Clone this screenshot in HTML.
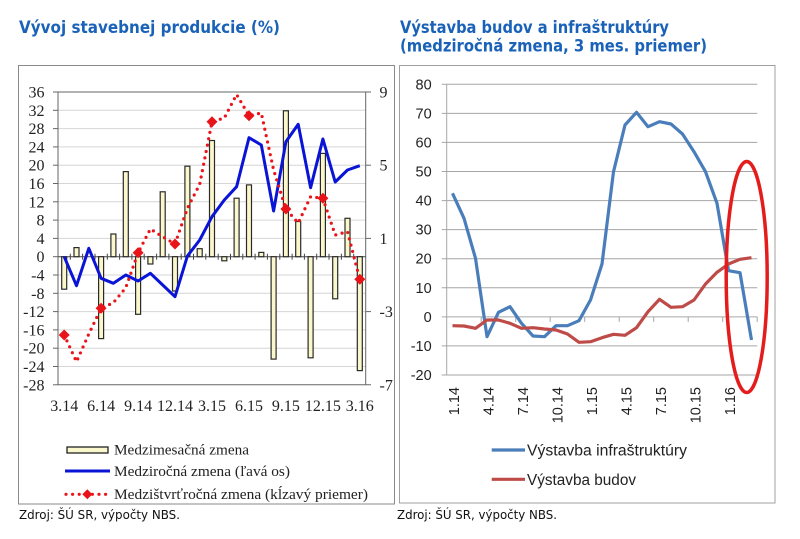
<!DOCTYPE html>
<html><head><meta charset="utf-8"><style>
html,body{margin:0;padding:0;background:#fff;}
svg{display:block;}
</style></head><body>
<svg width="800" height="539" viewBox="0 0 800 539" xmlns="http://www.w3.org/2000/svg">
<rect width="800" height="539" fill="#fff"/>
<!-- Titles -->
<text x="19" y="33" font-family="DejaVu Sans, Liberation Sans, sans-serif" font-weight="bold" font-size="17" fill="#1a62b8" textLength="261" lengthAdjust="spacingAndGlyphs">Vývoj stavebnej produkcie (%)</text>
<text x="400" y="33" font-family="DejaVu Sans, Liberation Sans, sans-serif" font-weight="bold" font-size="17" fill="#1a62b8" textLength="269" lengthAdjust="spacingAndGlyphs">Výstavba budov a infraštruktúry</text>
<text x="400" y="51.5" font-family="DejaVu Sans, Liberation Sans, sans-serif" font-weight="bold" font-size="17" fill="#1a62b8" textLength="307" lengthAdjust="spacingAndGlyphs">(medziročná zmena, 3 mes. priemer)</text>

<!-- Frames -->
<rect x="18.5" y="65.5" width="376" height="438.5" fill="none" stroke="#8a8a8a" stroke-width="1"/>
<rect x="399.5" y="65.5" width="375.5" height="437.5" fill="none" stroke="#a0a0a0" stroke-width="1"/>

<!-- LEFT CHART -->
<g stroke="#d6d6d6" stroke-width="1">
<line x1="58" y1="110.3" x2="366" y2="110.3"/>
<line x1="58" y1="128.6" x2="366" y2="128.6"/>
<line x1="58" y1="146.9" x2="366" y2="146.9"/>
<line x1="58" y1="165.2" x2="366" y2="165.2"/>
<line x1="58" y1="183.5" x2="366" y2="183.5"/>
<line x1="58" y1="201.8" x2="366" y2="201.8"/>
<line x1="58" y1="220.1" x2="366" y2="220.1"/>
<line x1="58" y1="238.4" x2="366" y2="238.4"/>
<line x1="58" y1="275" x2="366" y2="275"/>
<line x1="58" y1="293.3" x2="366" y2="293.3"/>
<line x1="58" y1="311.6" x2="366" y2="311.6"/>
<line x1="58" y1="329.9" x2="366" y2="329.9"/>
<line x1="58" y1="348.2" x2="366" y2="348.2"/>
<line x1="58" y1="366.5" x2="366" y2="366.5"/>
</g>
<g stroke="#666" stroke-width="1">
<line x1="58" y1="92" x2="371" y2="92"/>
<line x1="58" y1="384.8" x2="371" y2="384.8"/>
<line x1="58" y1="92" x2="58" y2="384.8"/>
<line x1="365.7" y1="92" x2="365.7" y2="384.8"/>
<line x1="53" y1="92" x2="58" y2="92"/><line x1="53" y1="110.3" x2="58" y2="110.3"/><line x1="53" y1="128.6" x2="58" y2="128.6"/><line x1="53" y1="146.9" x2="58" y2="146.9"/><line x1="53" y1="165.2" x2="58" y2="165.2"/><line x1="53" y1="183.5" x2="58" y2="183.5"/><line x1="53" y1="201.8" x2="58" y2="201.8"/><line x1="53" y1="220.1" x2="58" y2="220.1"/><line x1="53" y1="238.4" x2="58" y2="238.4"/><line x1="53" y1="256.7" x2="58" y2="256.7"/><line x1="53" y1="275" x2="58" y2="275"/><line x1="53" y1="293.3" x2="58" y2="293.3"/><line x1="53" y1="311.6" x2="58" y2="311.6"/><line x1="53" y1="329.9" x2="58" y2="329.9"/><line x1="53" y1="348.2" x2="58" y2="348.2"/><line x1="53" y1="366.5" x2="58" y2="366.5"/><line x1="53" y1="384.8" x2="58" y2="384.8"/>
<line x1="365.7" y1="165.2" x2="371" y2="165.2"/><line x1="365.7" y1="238.4" x2="371" y2="238.4"/><line x1="365.7" y1="311.6" x2="371" y2="311.6"/>
</g>
<g stroke="#444" stroke-width="1">
<line x1="58" y1="256.7" x2="365.7" y2="256.7"/>
<line x1="70.3" y1="253.7" x2="70.3" y2="259.7"/><line x1="82.6" y1="253.7" x2="82.6" y2="259.7"/><line x1="95" y1="253.7" x2="95" y2="259.7"/><line x1="107.3" y1="253.7" x2="107.3" y2="259.7"/><line x1="119.6" y1="253.7" x2="119.6" y2="259.7"/><line x1="131.9" y1="253.7" x2="131.9" y2="259.7"/><line x1="144.2" y1="253.7" x2="144.2" y2="259.7"/><line x1="156.6" y1="253.7" x2="156.6" y2="259.7"/><line x1="168.9" y1="253.7" x2="168.9" y2="259.7"/><line x1="181.2" y1="253.7" x2="181.2" y2="259.7"/><line x1="193.5" y1="253.7" x2="193.5" y2="259.7"/><line x1="205.8" y1="253.7" x2="205.8" y2="259.7"/><line x1="218.2" y1="253.7" x2="218.2" y2="259.7"/><line x1="230.5" y1="253.7" x2="230.5" y2="259.7"/><line x1="242.8" y1="253.7" x2="242.8" y2="259.7"/><line x1="255.1" y1="253.7" x2="255.1" y2="259.7"/><line x1="267.4" y1="253.7" x2="267.4" y2="259.7"/><line x1="279.8" y1="253.7" x2="279.8" y2="259.7"/><line x1="292.1" y1="253.7" x2="292.1" y2="259.7"/><line x1="304.4" y1="253.7" x2="304.4" y2="259.7"/><line x1="316.7" y1="253.7" x2="316.7" y2="259.7"/><line x1="329" y1="253.7" x2="329" y2="259.7"/><line x1="341.4" y1="253.7" x2="341.4" y2="259.7"/><line x1="353.7" y1="253.7" x2="353.7" y2="259.7"/>
</g>
<g fill="#fbf7cc" stroke="#2a2a2a" stroke-width="1.2">
<rect x="61.7" y="256.7" width="5" height="32.5"/>
<rect x="74" y="247.6" width="5" height="9.1"/>
<rect x="98.6" y="256.7" width="5" height="81.9"/>
<rect x="110.9" y="234" width="5" height="22.7"/>
<rect x="123.3" y="171.6" width="5" height="85.1"/>
<rect x="135.6" y="256.7" width="5" height="57.6"/>
<rect x="147.9" y="256.7" width="5" height="7.3"/>
<rect x="160.2" y="191.8" width="5" height="64.9"/>
<rect x="172.5" y="256.7" width="5" height="34.3"/>
<rect x="184.9" y="166.2" width="5" height="90.5"/>
<rect x="197.2" y="248.7" width="5" height="8"/>
<rect x="209.5" y="140.5" width="5" height="116.2"/>
<rect x="221.8" y="256.7" width="5" height="4.1"/>
<rect x="234.1" y="198.2" width="5" height="58.5"/>
<rect x="246.5" y="184.9" width="5" height="71.8"/>
<rect x="258.8" y="252.4" width="5" height="4.3"/>
<rect x="271.1" y="256.7" width="5" height="102.4"/>
<rect x="283.4" y="110.8" width="5" height="145.9"/>
<rect x="295.7" y="221.5" width="5" height="35.2"/>
<rect x="308.1" y="256.7" width="5" height="101.1"/>
<rect x="320.4" y="153.4" width="5" height="103.3"/>
<rect x="332.7" y="256.7" width="5" height="42.1"/>
<rect x="345" y="218.3" width="5" height="38.4"/>
<rect x="357.3" y="256.7" width="5" height="113.9"/>
</g>
<polyline fill="none" stroke="#0a14d6" stroke-width="3" stroke-linejoin="round" points="64.2,256.7 76.5,285.7 88.8,248.3 101.1,278.3 113.4,283.3 125.8,275 138.1,281 150.4,273.3 162.7,285 175,296.7 187.4,256 199.7,240 212,216.7 224.3,200 236.6,186.7 249,137.7 261.3,145 273.6,211 285.9,141.7 298.2,124.3 310.6,187.7 322.9,139 335.2,182 347.5,170 359.8,165.7"/>
<polyline fill="none" stroke="#e8141a" stroke-width="3.2" stroke-linecap="round" stroke-linejoin="round" stroke-dasharray="0 6.5" points="64.2,335 76.5,361.7 88.8,334 101.1,308.3 113.4,302.7 125.8,287.7 138.1,252.7 150.4,229 162.7,236.7 175,244 187.4,208.3 199.7,184.3 212,121.7 224.3,118 236.6,94.5 249,115.7 261.3,113 273.6,170 285.9,209 298.2,223 310.6,196.7 322.9,198.3 335.2,235 347.5,231.7 359.8,279.3"/>
<g fill="#e8141a">
<polygon points="64.2,329.5 69.7,335 64.2,340.5 58.7,335"/>
<polygon points="101.1,302.8 106.6,308.3 101.1,313.8 95.6,308.3"/>
<polygon points="138.1,247.2 143.6,252.7 138.1,258.2 132.6,252.7"/>
<polygon points="175,238.5 180.5,244 175,249.5 169.5,244"/>
<polygon points="212,116.2 217.5,121.7 212,127.2 206.5,121.7"/>
<polygon points="249,110.2 254.5,115.7 249,121.2 243.5,115.7"/>
<polygon points="285.9,203.5 291.4,209 285.9,214.5 280.4,209"/>
<polygon points="322.9,192.8 328.4,198.3 322.9,203.8 317.4,198.3"/>
<polygon points="359.8,273.8 365.3,279.3 359.8,284.8 354.3,279.3"/>
</g>
<g font-family="Liberation Serif, serif" font-size="16" fill="#222" text-anchor="end">
<text x="44.5" y="97.5">36</text><text x="44.5" y="115.8">32</text><text x="44.5" y="134.1">28</text><text x="44.5" y="152.4">24</text><text x="44.5" y="170.7">20</text><text x="44.5" y="189">16</text><text x="44.5" y="207.3">12</text><text x="44.5" y="225.6">8</text><text x="44.5" y="243.9">4</text><text x="44.5" y="262.2">0</text><text x="44.5" y="280.5">-4</text><text x="44.5" y="298.8">-8</text><text x="44.5" y="317.1">-12</text><text x="44.5" y="335.4">-16</text><text x="44.5" y="353.7">-20</text><text x="44.5" y="372">-24</text><text x="44.5" y="390.3">-28</text>
</g>
<g font-family="Liberation Serif, serif" font-size="16" fill="#222">
<text x="379.5" y="97.5">9</text><text x="379.5" y="170.7">5</text><text x="379.5" y="243.9">1</text><text x="379.5" y="317.1">-3</text><text x="379.5" y="390.3">-7</text>
</g>
<g font-family="Liberation Serif, serif" font-size="16" fill="#222" text-anchor="middle">
<text x="64.2" y="411">3.14</text><text x="101.1" y="411">6.14</text><text x="138.1" y="411">9.14</text><text x="175" y="411">12.14</text><text x="212" y="411">3.15</text><text x="249" y="411">6.15</text><text x="285.9" y="411">9.15</text><text x="322.9" y="411">12.15</text><text x="359.8" y="411">3.16</text>
</g>
<rect x="67" y="447" width="41" height="6" fill="#fbf7cc" stroke="#222" stroke-width="1.3"/>
<line x1="65" y1="471" x2="110" y2="471" stroke="#0a14d6" stroke-width="3"/>
<line x1="66" y1="494.3" x2="106" y2="494.3" stroke="#e8141a" stroke-width="3.2" stroke-linecap="round" stroke-dasharray="0 6.6"/>
<polygon points="87.3,489.3 92.3,494.3 87.3,499.3 82.3,494.3" fill="#e8141a"/>
<g font-family="Liberation Serif, serif" font-size="15" fill="#222">
<text x="114" y="454.5" textLength="135" lengthAdjust="spacingAndGlyphs">Medzimesačná zmena</text>
<text x="114" y="476" textLength="176" lengthAdjust="spacingAndGlyphs">Medziročná zmena (ľavá os)</text>
<text x="114" y="499" textLength="254" lengthAdjust="spacingAndGlyphs">Medzištvrťročná zmena (kĺzavý priemer)</text>
</g>
<text x="19" y="519" font-family="DejaVu Sans, Liberation Sans, sans-serif" font-size="12" fill="#111" textLength="161" lengthAdjust="spacingAndGlyphs">Zdroj: ŠÚ SR, výpočty NBS.</text>

<!-- RIGHT CHART -->
<g stroke="#a6a6a6" stroke-width="1">
<line x1="441.7" y1="84.3" x2="757.3" y2="84.3"/>
<line x1="441.7" y1="113.4" x2="757.3" y2="113.4"/>
<line x1="441.7" y1="142.4" x2="757.3" y2="142.4"/>
<line x1="441.7" y1="171.5" x2="757.3" y2="171.5"/>
<line x1="441.7" y1="200.6" x2="757.3" y2="200.6"/>
<line x1="441.7" y1="229.6" x2="757.3" y2="229.6"/>
<line x1="441.7" y1="258.7" x2="757.3" y2="258.7"/>
<line x1="441.7" y1="287.8" x2="757.3" y2="287.8"/>
<line x1="441.7" y1="316.9" x2="757.3" y2="316.9"/>
<line x1="441.7" y1="345.9" x2="757.3" y2="345.9"/>
<line x1="441.7" y1="375" x2="757.3" y2="375"/>
<line x1="446.7" y1="84.3" x2="446.7" y2="375"/>
<line x1="481.2" y1="316.9" x2="481.2" y2="321.9"/><line x1="515.7" y1="316.9" x2="515.7" y2="321.9"/><line x1="550.2" y1="316.9" x2="550.2" y2="321.9"/><line x1="584.7" y1="316.9" x2="584.7" y2="321.9"/><line x1="619.2" y1="316.9" x2="619.2" y2="321.9"/><line x1="653.7" y1="316.9" x2="653.7" y2="321.9"/><line x1="688.2" y1="316.9" x2="688.2" y2="321.9"/><line x1="722.7" y1="316.9" x2="722.7" y2="321.9"/><line x1="757.2" y1="316.9" x2="757.2" y2="321.9"/>
</g>
<g font-family="Liberation Sans, sans-serif" font-size="14.5" fill="#222" text-anchor="end">
<text x="431.7" y="89.3">80</text><text x="431.7" y="118.4">70</text><text x="431.7" y="147.4">60</text><text x="431.7" y="176.5">50</text><text x="431.7" y="205.6">40</text><text x="431.7" y="234.6">30</text><text x="431.7" y="263.7">20</text><text x="431.7" y="292.8">10</text><text x="431.7" y="321.9">0</text><text x="431.7" y="350.9">-10</text><text x="431.7" y="380">-20</text>
</g>
<g font-family="Liberation Sans, sans-serif" font-size="14.5" fill="#222" text-anchor="end">
<text transform="translate(459,387) rotate(-90)">1.14</text>
<text transform="translate(493.5,387) rotate(-90)">4.14</text>
<text transform="translate(528,387) rotate(-90)">7.14</text>
<text transform="translate(562.5,387) rotate(-90)">10.14</text>
<text transform="translate(597,387) rotate(-90)">1.15</text>
<text transform="translate(631.5,387) rotate(-90)">4.15</text>
<text transform="translate(666,387) rotate(-90)">7.15</text>
<text transform="translate(700.5,387) rotate(-90)">10.15</text>
<text transform="translate(735,387) rotate(-90)">1.16</text>
</g>
<polyline fill="none" stroke="#4a7ebb" stroke-width="3.2" stroke-linejoin="round" points="452.5,193.3 464,218.3 475.5,258.3 487,336.7 498.5,312.3 510,306.7 521.5,323.3 533,336 544.5,336.7 556,325.7 567.5,325.7 579,320.7 590.5,300 602,264 613.5,171.7 625,125 636.5,112.3 648,126.7 659.5,121.7 671,124 682.5,134 694,151.7 705.5,171.7 717,203.3 728.5,270.7 740,272.7 751.5,340"/>
<polyline fill="none" stroke="#be4b48" stroke-width="3.2" stroke-linejoin="round" points="452.5,325.7 464,326 475.5,328.3 487,320 498.5,320 510,323.3 521.5,328.3 533,327.7 544.5,329 556,330 567.5,334 579,342.3 590.5,341.7 602,337.7 613.5,334.3 625,335.3 636.5,327.7 648,311.7 659.5,299.3 671,307.3 682.5,306.7 694,300 705.5,284 717,272.3 728.5,264 740,259.3 751.5,257.7"/>
<ellipse cx="746.7" cy="277" rx="20.5" ry="115.5" fill="none" stroke="#e41c1c" stroke-width="3.5"/>
<line x1="491.7" y1="450" x2="525" y2="450" stroke="#4a7ebb" stroke-width="3.2"/>
<line x1="491.7" y1="479.3" x2="525" y2="479.3" stroke="#be4b48" stroke-width="3.2"/>
<g font-family="Liberation Sans, sans-serif" font-size="15.5" fill="#222">
<text x="527" y="455.5" textLength="160" lengthAdjust="spacingAndGlyphs">Výstavba infraštruktúry</text>
<text x="527" y="485" textLength="109" lengthAdjust="spacingAndGlyphs">Výstavba budov</text>
</g>
<text x="397" y="519" font-family="DejaVu Sans, Liberation Sans, sans-serif" font-size="12" fill="#111" textLength="160" lengthAdjust="spacingAndGlyphs">Zdroj: ŠÚ SR, výpočty NBS.</text>
</svg>
</body></html>
